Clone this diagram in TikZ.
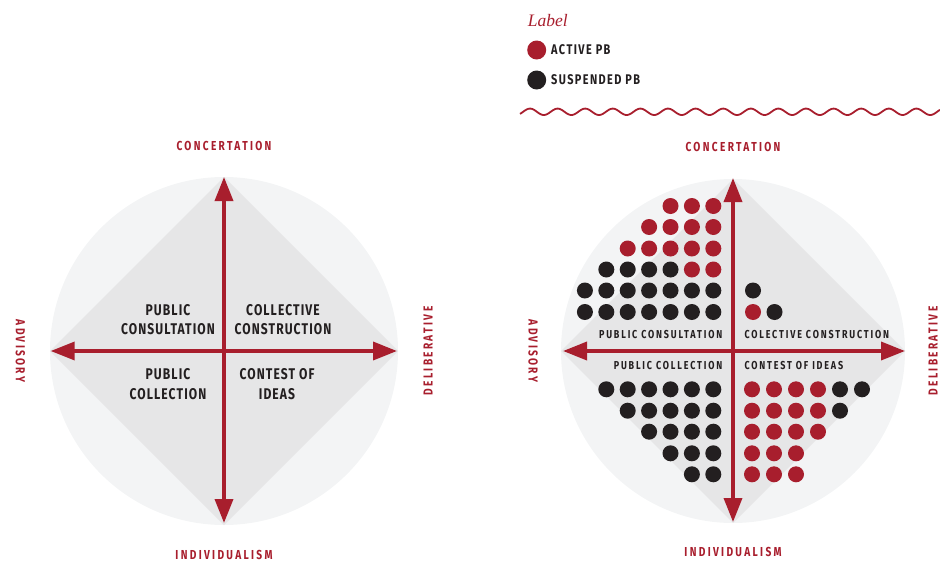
\documentclass[tikz,border=0pt]{standalone}
\usepackage{fontspec}
\setmainfont{Liberation Serif}
\newfontfamily\axisfont[FakeStretch=0.78,LetterSpace=18]{Fira Sans}
\newfontfamily\quadfont[FakeStretch=0.78,LetterSpace=7]{Fira Sans}
\newfontfamily\smallquadfont[FakeStretch=0.78,LetterSpace=16]{Fira Sans}
\newfontfamily\legfont[FakeStretch=0.78,LetterSpace=10]{Fira Sans}
\usetikzlibrary{arrows.meta}
\definecolor{pbred}{HTML}{A81E2D}
\definecolor{pbdark}{HTML}{231F20}
\definecolor{circ}{HTML}{F3F4F5}
\definecolor{diam}{HTML}{E6E6E7}
\tikzset{
  axislbl/.style={font=\axisfont\bfseries\fontsize{13}{13}\selectfont, text=pbred, inner sep=0pt},
  quadL/.style={font=\quadfont\bfseries\fontsize{15.5}{19.5}\selectfont, text=pbdark, align=center, inner sep=0pt},
  quadR/.style={font=\smallquadfont\bfseries\fontsize{11.5}{12}\selectfont, text=pbdark, inner sep=0pt},
  legtext/.style={font=\legfont\bfseries\fontsize{14}{14}\selectfont, text=pbdark, inner sep=0pt, anchor=west},
  axisarrow/.style={draw=pbred, line width=3.5pt, {Triangle[length=24pt,width=18pt]}-{Triangle[length=24pt,width=18pt]}},
  reddot/.style={fill=pbred},
  blackdot/.style={fill=pbdark}
}
\begin{document}
\begin{tikzpicture}[x=1pt,y=-1pt]
\useasboundingbox (0,0) rectangle (940,562);
% ---------------- left diagram ----------------
\fill[circ] (224,351) circle (174pt);
\fill[diam] (50,351) -- (224,177) -- (398,351) -- (224,525) -- cycle;
\coordinate (LT) at (224,177);
\coordinate (LB) at (224,523);
\coordinate (LL) at (50.7,351);
\coordinate (LR) at (397,351);
\draw[axisarrow] (LL) -- (LR);
\draw[axisarrow] (LB) -- (LT);
\node[quadL] (lq1) at (168,319.5) {PUBLIC\\CONSULTATION};
\node[quadL] (lq2) at (283,319.5) {COLLECTIVE\\CONSTRUCTION};
\node[quadL] (lq3) at (168,384) {PUBLIC\\COLLECTION};
\node[quadL] (lq4) at (277,384) {CONTEST OF\\IDEAS};
\node[axislbl] (lcon) at (224,145.5) {CONCERTATION};
\node[axislbl] (lind) at (224,555) {INDIVIDUALISM};
\node[axislbl, rotate=-90] (ladv) at (20.5,351) {ADVISORY};
\node[axislbl, rotate=90] (ldel) at (428,351) {DELIBERATIVE};
% ---------------- right diagram ----------------
\fill[circ] (733,351) circle (172pt);
\fill[diam] (561,351) -- (733,179) -- (905,351) -- (733,523) -- cycle;
\coordinate (RT) at (733,178);
\coordinate (RB) at (733,522);
\coordinate (RL) at (563,351);
\coordinate (RR) at (905,351);
% dots top-left
\foreach \k in {0,1,2} \fill[reddot] ({713.3-21.4*\k},206) circle (8pt);
\foreach \k in {0,...,3} \fill[reddot] ({713.3-21.4*\k},227) circle (8pt);
\foreach \k in {0,...,4} \fill[reddot] ({713.3-21.4*\k},248.5) circle (8pt);
\foreach \k in {0,1} \fill[reddot] ({713.3-21.4*\k},269.5) circle (8pt);
\foreach \k in {2,...,5} \fill[blackdot] ({713.3-21.4*\k},269.5) circle (8pt);
\foreach \k in {0,...,6} \fill[blackdot] ({713.3-21.4*\k},290.5) circle (8pt);
\foreach \k in {0,...,6} \fill[blackdot] ({713.3-21.4*\k},312) circle (8pt);
% dots top-right
\fill[blackdot] (753,290.5) circle (8pt);
\fill[reddot] (753,312) circle (8pt);
\fill[blackdot] (774.5,312) circle (8pt);
% dots bottom-left
\foreach \n/\y in {5/389.3,4/410.7,3/431.7,2/453.3,1/474.3}
  \foreach \k in {0,...,\n} \fill[blackdot] ({713.3-21.4*\k},\y) circle (8pt);
% dots bottom-right
\foreach \y in {389.3,410.7,431.7} \foreach \k in {0,...,3} \fill[reddot] ({752+22*\k},\y) circle (8pt);
\foreach \y in {453.3,474.3} \foreach \k in {0,1,2} \fill[reddot] ({752+22*\k},\y) circle (8pt);
\fill[blackdot] (840,389.3) circle (8pt);
\fill[blackdot] (862,389.3) circle (8pt);
\fill[blackdot] (840,410.7) circle (8pt);
\draw[axisarrow] (RL) -- (RR);
\draw[axisarrow] (RB) -- (RT);
\node[quadR, anchor=east] (rq1) at (722.5,335) {PUBLIC CONSULTATION};
\node[quadR, anchor=west] (rq2) at (744.3,335) {COLECTIVE CONSTRUCTION};
\node[quadR, anchor=east] (rq3) at (722.5,366) {PUBLIC COLLECTION};
\node[quadR, anchor=west] (rq4) at (744.3,366) {CONTEST OF IDEAS};
\node[axislbl] (rcon) at (733,147) {CONCERTATION};
\node[axislbl] (rind) at (733,551.5) {INDIVIDUALISM};
\node[axislbl, rotate=-90] (radv) at (533,351) {ADVISORY};
\node[axislbl, rotate=90] (rdel) at (933,351) {DELIBERATIVE};
% ---------------- legend ----------------
\node[anchor=west, inner sep=0pt, text=pbred, font=\itshape\fontsize{17.5}{18}\selectfont] (leglabel) at (527.7,20.7) {Label};
\fill[reddot] (536.7,50) circle (9.5pt);
\fill[blackdot] (536.7,80) circle (9.5pt);
\node[legtext] (legact) at (551,50) {ACTIVE PB};
\node[legtext] (legsus) at (551,80) {SUSPENDED PB};
\draw[pbred, line width=1.8pt] plot[domain=520:940, samples=400, smooth] (\x, {111.8 - 3.2*cos(13.0435*(\x-530))});
\end{tikzpicture}
\end{document}
